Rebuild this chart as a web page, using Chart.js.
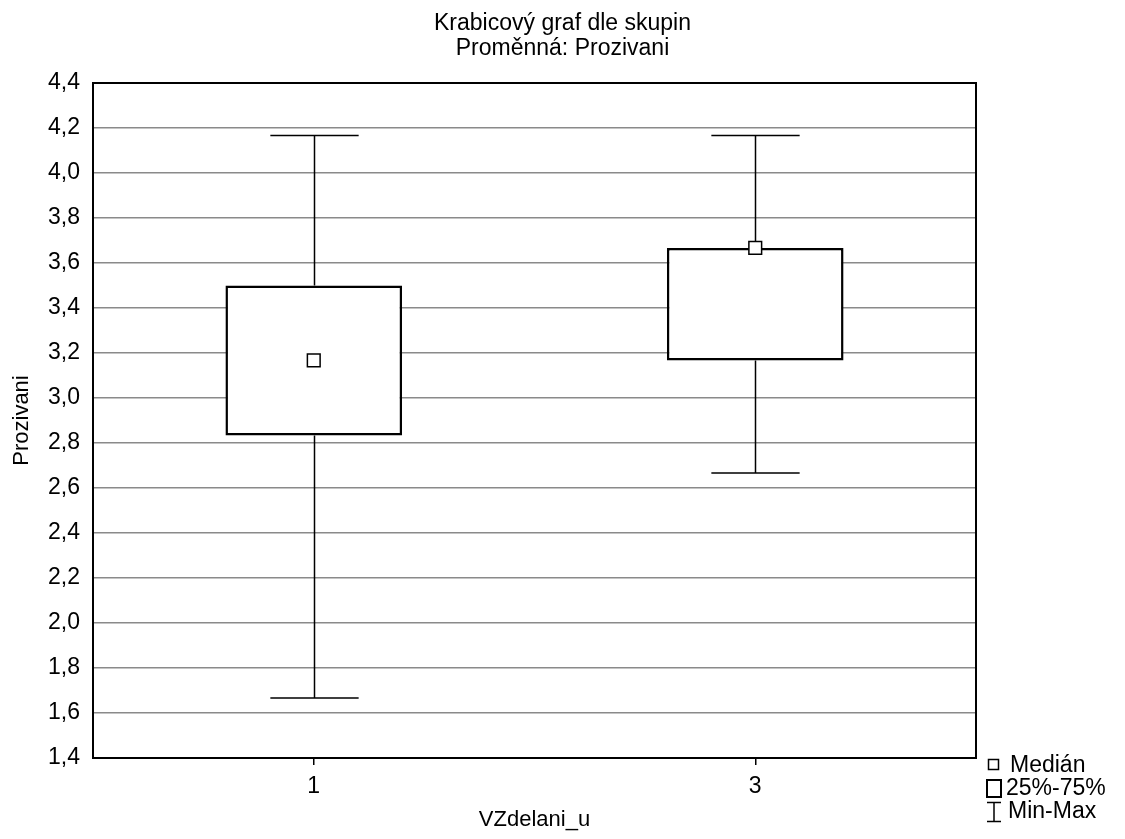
<!DOCTYPE html>
<html>
<head>
<meta charset="utf-8">
<script src="https://cdn.jsdelivr.net/npm/chart.js@4"></script>
<style>
  html, body { margin: 0; padding: 0; background: #fff; }
  #wrap { width: 1125px; height: 839px; }
</style>
</head>
<body>
<div id="wrap"><canvas id="boxChart"></canvas></div>
<script>
// groups of VZdelani_u
const categories = ["1", "3"];
const minValues = [1.667, 2.667];
const q1Values = [2.833, 3.167];
const medianValues = [3.167, 3.667];
const q3Values = [3.5, 3.667];
const maxValues = [4.167, 4.167];

const titleLines = ["Krabicový graf dle skupin", "Proměnná: Prozivani"];
const fontFamily = "'Liberation Sans', Arial, sans-serif";
const comma = v => Number(v).toFixed(1).replace(".", ",");

// whiskers + caps, drawn under the boxes; frame, title and legend afterwards
const whiskerPlugin = {
  id: "whiskers",
  beforeDatasetsDraw(chart) {
    const { ctx, scales: { x, y } } = chart;
    const capHalf = (x.getPixelForValue(1) - x.getPixelForValue(0)) * 0.1;
    ctx.save();
    ctx.strokeStyle = "#000";
    ctx.lineWidth = 1.5;
    categories.forEach((c, i) => {
      const cx = Math.round(x.getPixelForValue(i)) + 0.5;
      const yMin = y.getPixelForValue(minValues[i]);
      const yMax = y.getPixelForValue(maxValues[i]);
      ctx.beginPath();
      ctx.moveTo(cx, yMin);
      ctx.lineTo(cx, y.getPixelForValue(q1Values[i]));
      ctx.moveTo(cx, y.getPixelForValue(q3Values[i]));
      ctx.lineTo(cx, yMax);
      ctx.moveTo(cx - capHalf, yMin);
      ctx.lineTo(cx + capHalf, yMin);
      ctx.moveTo(cx - capHalf, yMax);
      ctx.lineTo(cx + capHalf, yMax);
      ctx.stroke();
    });
    ctx.restore();
  },
  afterDraw(chart) {
    const { ctx, chartArea: a } = chart;
    ctx.save();
    // frame
    ctx.strokeStyle = "#000";
    ctx.lineWidth = 2;
    ctx.strokeRect(a.left, a.top, a.right - a.left, a.bottom - a.top);

    // title, centred on the whole picture
    ctx.fillStyle = "#000";
    ctx.font = "23px " + fontFamily;
    ctx.textAlign = "center";
    ctx.textBaseline = "alphabetic";
    ctx.fillText(titleLines[0], chart.width / 2, 30);
    ctx.fillText(titleLines[1], chart.width / 2, 55);

    // legend at bottom right
    ctx.textAlign = "left";
    ctx.textBaseline = "middle";
    ctx.lineWidth = 1.5;
    ctx.strokeRect(988.5, 759.5, 10, 10);
    ctx.fillText("Medián", 1010, 766);
    ctx.lineWidth = 2;
    ctx.strokeRect(987, 780, 14, 17);
    ctx.fillText("25%-75%", 1006, 789);
    ctx.lineWidth = 1.5;
    ctx.beginPath();
    ctx.moveTo(987, 802.5); ctx.lineTo(1001, 802.5);
    ctx.moveTo(994, 802.5); ctx.lineTo(994, 821.5);
    ctx.moveTo(987, 821.5); ctx.lineTo(1001, 821.5);
    ctx.stroke();
    ctx.fillText("Min-Max", 1008, 812);
    ctx.restore();
  }
};

new Chart(document.getElementById("boxChart"), {
  type: "bar",
  data: {
    labels: categories,
    datasets: [
      {
        label: "25%-75%",
        data: categories.map((c, i) => [q1Values[i], q3Values[i]]),
        backgroundColor: "#fff",
        borderColor: "#000",
        borderWidth: 2.5,
        borderSkipped: false,
        barPercentage: 0.4,
        categoryPercentage: 1,
        order: 2
      },
      {
        type: "line",
        label: "Medián",
        data: medianValues,
        showLine: false,
        pointStyle: "rect",
        pointRadius: 9,
        pointBorderWidth: 1.5,
        pointBackgroundColor: "#fff",
        pointBorderColor: "#000",
        order: 1
      }
    ]
  },
  options: {
    responsive: true,
    maintainAspectRatio: false,
    animation: false,
    layout: { padding: { left: 0, right: 149, top: 83, bottom: 0 } },
    plugins: {
      legend: { display: false },
      tooltip: { enabled: false },
      title: { display: false }
    },
    scales: {
      x: {
        offset: true,
        grid: { display: true, drawOnChartArea: false, drawTicks: true, tickLength: 7, color: "#000", lineWidth: 1.5, offset: false },
        border: { color: "#000", width: 2 },
        ticks: { color: "#000", font: { family: fontFamily, size: 23 }, padding: 8 },
        title: { display: true, text: "VZdelani_u", color: "#000", font: { family: fontFamily, size: 22 }, padding: { top: 0, bottom: 6 } },
        afterFit(scale) { scale.height = 81; }
      },
      y: {
        min: 1.4,
        max: 4.4,
        grid: { color: "#8a8a8a", lineWidth: 1.5, drawTicks: false },
        border: { color: "#000", width: 2 },
        ticks: { stepSize: 0.2, color: "#000", font: { family: fontFamily, size: 23 }, padding: 13, callback: v => comma(v) },
        title: { display: true, text: "Prozivani", color: "#000", font: { family: fontFamily, size: 22 }, padding: { top: 9, bottom: 0 } },
        afterFit(scale) { scale.width = 93; }
      }
    }
  },
  plugins: [whiskerPlugin]
});
</script>
</body>
</html>
